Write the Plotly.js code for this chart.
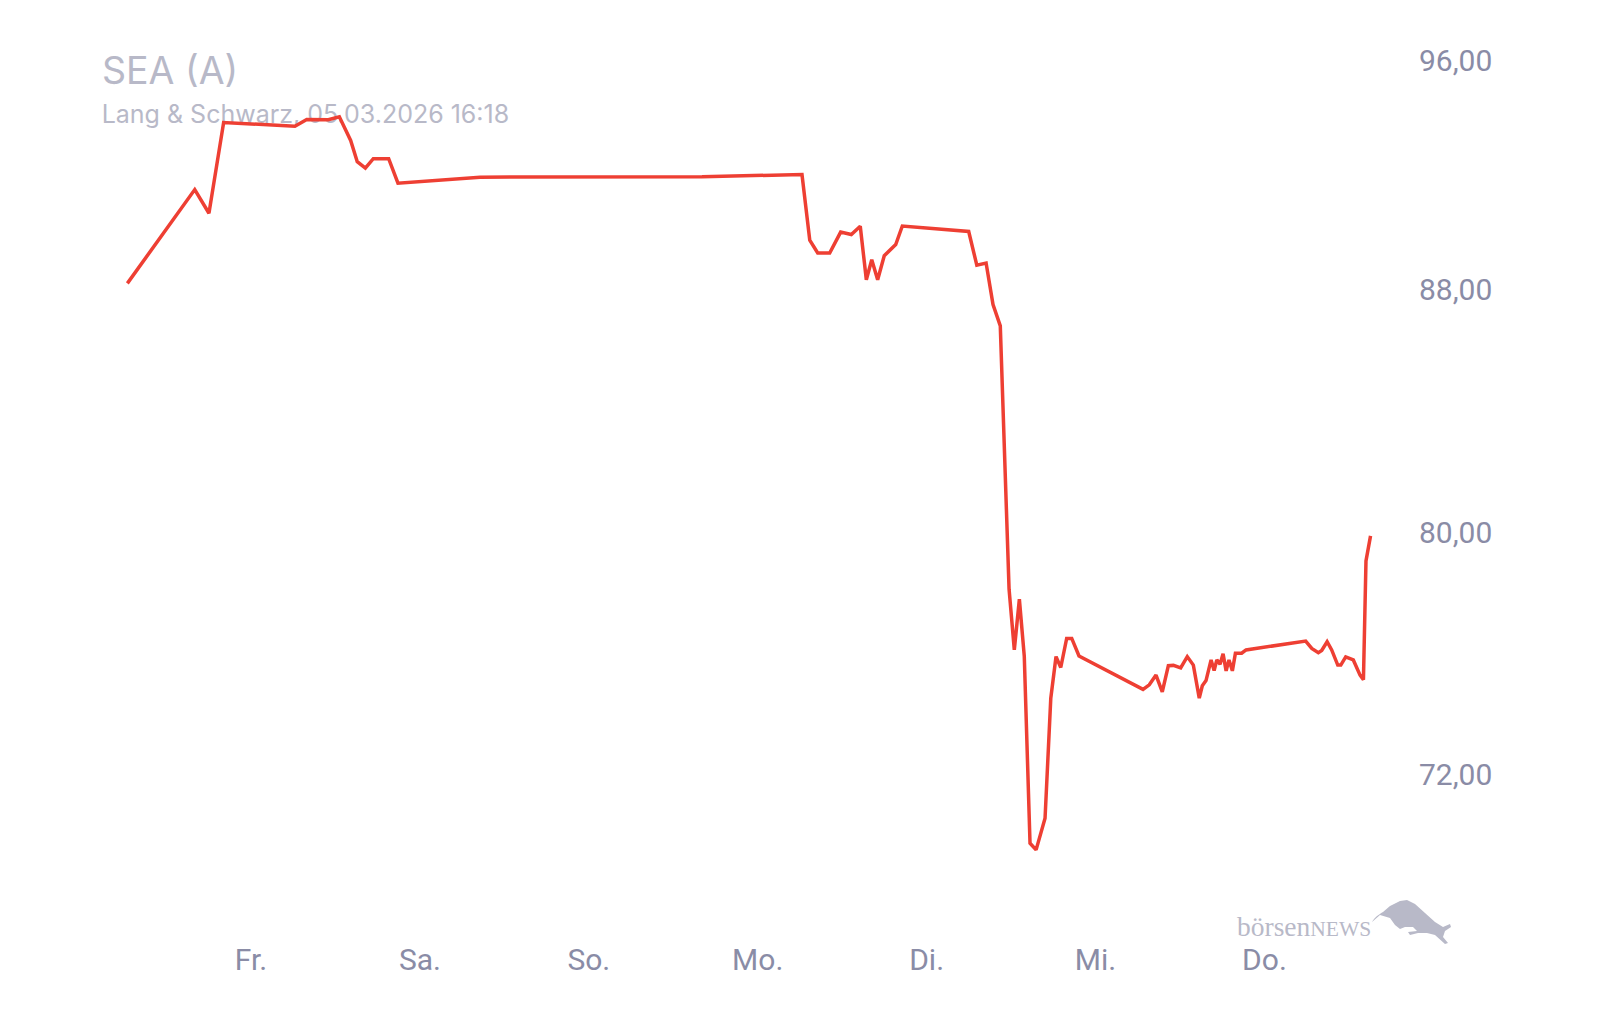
<!DOCTYPE html>
<html><head><meta charset="utf-8">
<script src="https://cdn.plot.ly/plotly-3.0.1.min.js"></script>
<style>html,body{margin:0;padding:0;background:#fff}#c{width:1600px;height:1020px}</style>
</head><body><div id="c"></div>
<script>
// days since Friday 00:00
const days = [-0.726,-0.327,-0.243,-0.156,0.266,0.336,0.464,0.529,0.596,0.635,0.683,0.730,0.821,0.876,1.362,2.676,3.268,3.314,3.361,3.432,3.497,3.560,3.613,3.649,3.681,3.716,3.755,3.823,3.862,4.255,4.303,4.358,4.399,4.442,4.494,4.525,4.555,4.584,4.618,4.654,4.707,4.741,4.772,4.800,4.835,4.865,4.908,5.287,5.324,5.364,5.401,5.437,5.467,5.510,5.549,5.585,5.620,5.638,5.660,5.690,5.708,5.724,5.743,5.761,5.779,5.796,5.816,5.834,5.871,5.897,6.250,6.286,6.325,6.345,6.377,6.404,6.440,6.458,6.487,6.532,6.572,6.592,6.607,6.634];
const prices = [88.20,91.29,90.51,93.50,93.38,93.60,93.59,93.69,92.91,92.21,92.00,92.31,92.31,91.50,91.70,91.71,91.79,89.62,89.20,89.20,89.89,89.81,90.08,88.32,88.98,88.32,89.11,89.48,90.09,89.91,88.80,88.87,87.50,86.80,78.12,76.12,77.79,75.92,69.75,69.53,70.57,74.53,75.90,75.54,76.50,76.50,75.92,74.82,74.97,75.29,74.74,75.60,75.61,75.53,75.90,75.62,74.53,74.94,75.11,75.79,75.44,75.79,75.65,75.99,75.43,75.79,75.43,76.01,76.01,76.12,76.41,76.17,76.03,76.10,76.39,76.12,75.62,75.62,75.89,75.79,75.29,75.14,79.05,79.88];
const dayTicks = [0,1,2,3,4,5,6];
const dayLabels = ['Fr.','Sa.','So.','Mo.','Di.','Mi.','Do.'];
// the top label is held inside the chart, below its true 96 position
const priceTicks = [95.55,88,80,72];
const priceLabels = ['96,00','88,00','80,00','72,00'];
const chartTitle = 'SEA (A)';
const chartSubtitle = 'Lang &amp; Schwarz, 05.03.2026 16:18';

const bull = "data:image/svg+xml;utf8," + encodeURIComponent(
 '<svg xmlns="http://www.w3.org/2000/svg" width="85" height="55" viewBox="1370 895 85 55">'+
 '<path fill="#b8b9c8" d="M1372 922 C1375 917 1378 915 1383 912 L1390 906 L1400 901 L1407 900 L1415 904 L1425 913 L1435 922 L1443 927 L1450 924 L1451 927 L1445 931 L1443 937 L1448 943 L1445 944 L1435 935 L1427 933 L1418 933 L1410 935 L1408 932 L1417 931 L1413 927 L1405 927 L1400 929 L1395 925 L1390 918 L1380 915 Z"/></svg>');

const grey='#8a8ca6', soft='#b8b9c8';
const W=1318;
Plotly.newPlot('c',[{
  type:'scatter',mode:'lines',x:days,y:prices,
  line:{color:'#ee3f33',width:3.5,shape:'linear'},hoverinfo:'skip'
}],{
  width:1600,height:1020,
  margin:{l:100,r:182,t:40,b:80,pad:0},
  paper_bgcolor:'#fff',plot_bgcolor:'rgba(0,0,0,0)',
  showlegend:false,
  title:{text:chartTitle,font:{family:'Inter, sans-serif',size:37.5,color:soft},
    x:102/1600,xanchor:'left',xref:'container',y:1-71/1020,yanchor:'middle',yref:'container',pad:{t:0,b:0,l:0,r:0}},
  xaxis:{range:[-0.888,6.915],showgrid:false,zeroline:false,showline:false,ticks:'',
    tickmode:'array',tickvals:dayTicks,ticktext:dayLabels,ticklabelshift:1,ticklabelstandoff:-1,
    tickfont:{family:'Roboto, sans-serif',size:30,color:grey},automargin:false},
  yaxis:{range:[66.56,96.22],side:'right',showgrid:false,zeroline:false,showline:false,ticks:'',
    tickmode:'array',tickvals:priceTicks,ticktext:priceLabels,
    tickfont:{family:'Roboto, sans-serif',size:30,color:grey},automargin:false},
  shapes:[{type:'rect',layer:'below',xref:'paper',yref:'paper',x0:-0.001,x1:0.5,y0:1-(129-40)/900,y1:1-(97-40)/900,
    line:{width:0},fillcolor:'rgba(0,0,0,0)',
    label:{text:chartSubtitle,textposition:'middle left',padding:0,font:{family:'Inter, sans-serif',size:25,color:soft}}}],
  annotations:[{xref:'paper',yref:'paper',x:(1235-100)/W,y:1-(926-40)/900,xanchor:'left',yanchor:'middle',showarrow:false,
    text:'börsen<span style="font-size:21.5px">NEWS</span>',font:{family:'Liberation Serif, serif',size:27.5,color:soft}}],
  images:[{source:bull,xref:'paper',yref:'paper',x:(1370-100)/W,y:1-(895-40)/900,sizex:85/W,sizey:55/900,
    xanchor:'left',yanchor:'top',sizing:'stretch',layer:'above'}]
},{displayModeBar:false,responsive:false,staticPlot:true});
</script></body></html>
